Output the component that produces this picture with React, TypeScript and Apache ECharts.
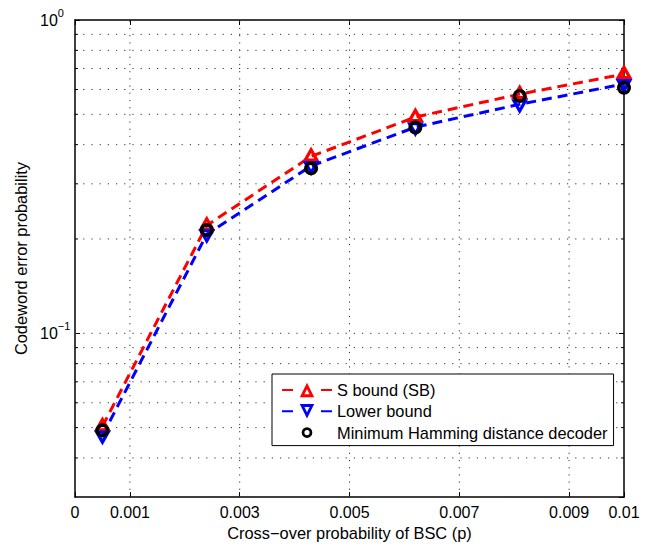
import React, { useEffect, useRef } from "react";
import * as echarts from "echarts";

const FONT = "'Liberation Sans', Arial, Helvetica, sans-serif";

// Data
const pValues = [0.0005, 0.0024, 0.0043, 0.0062, 0.0081, 0.01];
const sBound = [0.0505, 0.221, 0.367, 0.49, 0.58, 0.672];
const lowerBound = [0.0472, 0.207, 0.342, 0.455, 0.538, 0.625];
const hammingDecoder = [0.049, 0.2135, 0.336, 0.454, 0.572, 0.608];

const seriesNames = ["S bound (SB)", "Lower bound", "Minimum Hamming distance decoder"];

const xTickValues = [0, 0.001, 0.003, 0.005, 0.007, 0.009, 0.01];
const xGridValues = [0.001, 0.003, 0.005, 0.007, 0.009];
const yGridValues = [0.04, 0.05, 0.06, 0.07, 0.08, 0.09, 0.1, 0.2, 0.3, 0.4, 0.5, 0.6, 0.7, 0.8, 0.9];
const yMinorTickValues = [0.04, 0.05, 0.06, 0.07, 0.08, 0.09, 0.2, 0.3, 0.4, 0.5, 0.6, 0.7, 0.8, 0.9];

const xName = "Cross\u2212over probability of BSC (p)";
const yName = "Codeword error probability";

const X_MIN = 0;
const X_MAX = 0.01;
const Y_MIN = 0.03;
const Y_MAX = 1;

// Thick-outlined marker shapes (outer outline with a reversed inner hole)
const TRIANGLE_PATH =
  "path://M50 0 L100 100 L0 100 Z M50 44 L32 80 L68 80 Z";
const RING_PATH =
  "path://M0 0 L0 0 M100 100 L100 100 " +
  "M50 13 A37 37 0 1 1 50 87 A37 37 0 1 1 50 13 Z " +
  "M50 32 A18 18 0 1 0 50 68 A18 18 0 1 0 50 32 Z";

export default function App() {
  const ref = useRef<HTMLDivElement>(null);

  useEffect(() => {
    if (!ref.current) return;
    const chart = echarts.init(ref.current, undefined, { renderer: "svg" });

    const yLabelFormatter = (v: number) => {
      if (Math.abs(v - 1) < 1e-9) return "{b|10}{s|0}";
      if (Math.abs(v - 0.1) < 1e-9) return "{b|10}{s|\u22121}";
      return "";
    };

    const axisLineStyle = { color: "#000", width: 1.5 };
    const tickStyle = { color: "#000", width: 1 };
    const triW = 17;
    const triH = 15;

    const option: any = {
      animation: false,
      backgroundColor: "#fff",
      textStyle: { fontFamily: FONT },
      grid: { left: 75, right: 25, top: 20, bottom: 45, containLabel: false },
      legend: {
        orient: "vertical",
        left: 272,
        top: 374,
        padding: [8, 6, 5, 9],
        itemWidth: 50,
        itemHeight: 18,
        itemGap: 5.3,
        backgroundColor: "#fff",
        borderColor: "#000",
        borderWidth: 1,
        borderRadius: 0,
        textStyle: { fontSize: 16.4, color: "#000", fontFamily: FONT },
        lineStyle: { type: [11, 28] },
        data: seriesNames,
        selectedMode: false,
      },
      xAxis: [
        {
          type: "value",
          position: "bottom",
          min: X_MIN,
          max: X_MAX,
          axisLine: { show: true, onZero: false, lineStyle: axisLineStyle },
          axisTick: { show: true, inside: true, length: 5, customValues: xTickValues, lineStyle: tickStyle },
          axisLabel: {
            customValues: xTickValues,
            margin: 7,
            color: "#000",
            fontSize: 16,
            fontFamily: FONT,
            formatter: (v: number) => (v === 0 ? "0" : String(+v.toFixed(4))),
          },
          splitLine: { show: false },
          name: xName,
          nameLocation: "middle",
          nameGap: 26,
          nameTextStyle: { fontSize: 16.4, color: "#000", fontFamily: FONT },
        },
        {
          type: "value",
          position: "top",
          min: X_MIN,
          max: X_MAX,
          axisLine: { show: true, onZero: false, lineStyle: axisLineStyle },
          axisTick: { show: true, inside: true, length: 5, customValues: xTickValues, lineStyle: tickStyle },
          axisLabel: { show: false },
          splitLine: { show: false },
        },
      ],
      yAxis: [
        {
          type: "log",
          logBase: 10,
          position: "left",
          min: Y_MIN,
          max: Y_MAX,
          axisLine: { show: true, onZero: false, lineStyle: axisLineStyle },
          axisTick: { show: true, inside: true, length: 5, lineStyle: tickStyle },
          axisLabel: {
            show: true,
            align: "left",
            margin: 35,
            color: "#000",
            showMinLabel: false,
            formatter: yLabelFormatter,
            rich: {
              b: { fontSize: 16, lineHeight: 26, fontFamily: FONT, color: "#000" },
              s: { fontSize: 11, lineHeight: 11, verticalAlign: "top", fontFamily: FONT, color: "#000" },
            },
          },
          splitLine: { show: false },
          minorTick: { show: false },
          name: yName,
          nameLocation: "middle",
          nameRotate: 90,
          nameGap: 43,
          nameTextStyle: { fontSize: 16.4, color: "#000", fontFamily: FONT },
        },
        {
          type: "log",
          logBase: 10,
          position: "right",
          min: Y_MIN,
          max: Y_MAX,
          axisLine: { show: true, onZero: false, lineStyle: axisLineStyle },
          axisTick: { show: true, inside: true, length: 5, lineStyle: tickStyle },
          axisLabel: { show: false },
          splitLine: { show: false },
        },
      ],
      series: [
        {
          name: "hgrid",
          type: "custom",
          silent: true,
          z: 1,
          xAxisIndex: 0,
          yAxisIndex: 0,
          data: yGridValues.map((v) => [X_MIN, v]),
          renderItem: (params: any, api: any) => {
            const v = api.value(1);
            const a = api.coord([X_MIN, v]);
            const b = api.coord([X_MAX, v]);
            return {
              type: "line",
              shape: { x1: a[0], y1: a[1], x2: b[0], y2: b[1] },
              style: { stroke: "#333", lineWidth: 1, lineDash: [1.2, 7] },
            };
          },
        },
        {
          name: "vgrid",
          type: "custom",
          silent: true,
          z: 1,
          xAxisIndex: 0,
          yAxisIndex: 0,
          data: xGridValues.map((x) => [x, 0.1]),
          renderItem: (params: any, api: any) => {
            const x = api.value(0);
            const a = api.coord([x, Y_MIN]);
            const b = api.coord([x, Y_MAX]);
            return {
              type: "line",
              shape: { x1: a[0], y1: a[1], x2: b[0], y2: b[1] },
              style: { stroke: "#333", lineWidth: 1, lineDash: [1.2, 6] },
            };
          },
        },
        {
          name: "minorTicks",
          type: "custom",
          silent: true,
          z: 1,
          xAxisIndex: 0,
          yAxisIndex: 0,
          data: yMinorTickValues.map((v) => [X_MIN, v]),
          renderItem: (params: any, api: any) => {
            const v = api.value(1);
            const a = api.coord([X_MIN, v]);
            const b = api.coord([X_MAX, v]);
            return {
              type: "group",
              children: [
                { type: "line", shape: { x1: a[0], y1: a[1], x2: a[0] + 3, y2: a[1] }, style: { stroke: "#000", lineWidth: 1 } },
                { type: "line", shape: { x1: b[0], y1: b[1], x2: b[0] - 3, y2: b[1] }, style: { stroke: "#000", lineWidth: 1 } },
              ],
            };
          },
        },
        {
          name: seriesNames[0],
          type: "line",
          z: 3,
          data: pValues.map((p, i) => [p, sBound[i]]),
          symbol: TRIANGLE_PATH,
          symbolSize: [triW, triH],
          symbolOffset: [0, -triH / 6],
          showAllSymbol: true,
          itemStyle: { color: "#ff0000", borderWidth: 0 },
          lineStyle: { color: "#ff0000", width: 3, type: [10, 6] },
          emphasis: { disabled: true },
        },
        {
          name: seriesNames[1],
          type: "line",
          z: 3,
          data: pValues.map((p, i) => [p, lowerBound[i]]),
          symbol: TRIANGLE_PATH,
          symbolRotate: 180,
          symbolSize: [triW, triH],
          symbolOffset: [0, triH / 6],
          showAllSymbol: true,
          itemStyle: { color: "#0000ff", borderWidth: 0 },
          lineStyle: { color: "#0000ff", width: 3, type: [10, 6] },
          emphasis: { disabled: true },
        },
        {
          name: seriesNames[2],
          type: "line",
          z: 3,
          data: pValues.map((p, i) => [p, hammingDecoder[i]]),
          symbol: RING_PATH,
          symbolSize: 19,
          showAllSymbol: true,
          itemStyle: { color: "#000", borderWidth: 0 },
          lineStyle: { width: 0, opacity: 0 },
          emphasis: { disabled: true },
        },
      ],
    };

    chart.setOption(option);
    return () => chart.dispose();
  }, []);

  return (
    <div
      ref={ref}
      style={{ position: "fixed", left: 0, top: 0, width: 649, height: 546, background: "#fff" }}
    />
  );
}
